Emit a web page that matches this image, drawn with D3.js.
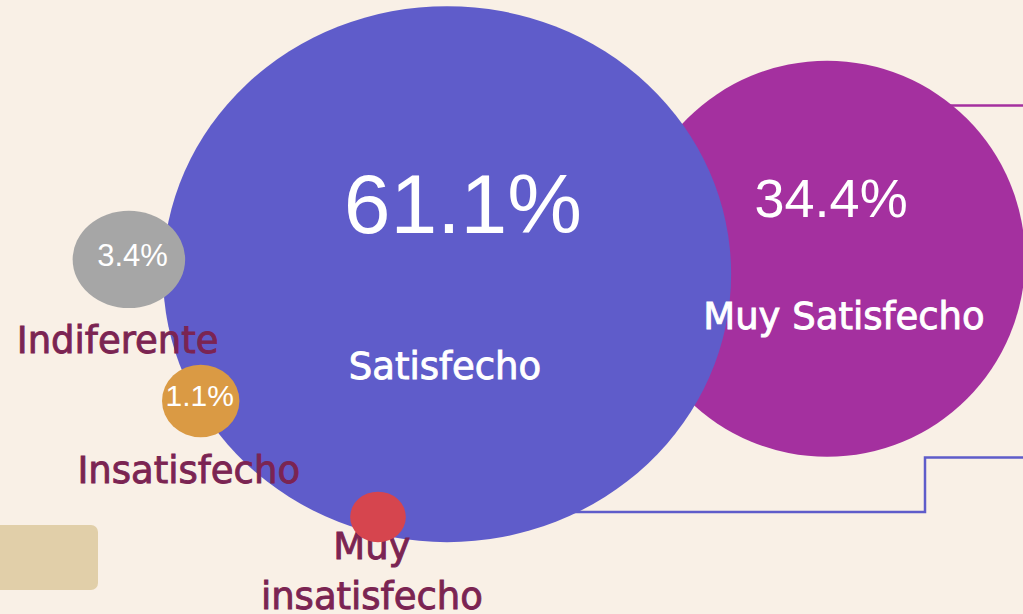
<!DOCTYPE html>
<html>
<head>
<meta charset="utf-8">
<script src="https://cdn.jsdelivr.net/npm/d3@7"></script>
<style>
  html, body { margin: 0; padding: 0; background: #f9f0e6; overflow: hidden; }
  svg { display: block; }
</style>
</head>
<body>
<svg id="chart"></svg>
<script>
// data
var categories = ["Muy Satisfecho", "Satisfecho", "Indiferente", "Insatisfecho", "Muy insatisfecho"];
var values = [34.4, 61.1, 3.4, 1.1, 0];
var valueLabels = ["34.4%", "61.1%", "3.4%", "1.1%", ""];
var colors = ["#a4309f", "#5f5cca", "#a6a6a6", "#da9a44", "#d6454e"];

var width = 1023, height = 614;

var svg = d3.select("#chart")
  .attr("width", width)
  .attr("height", height);

// layout in relative units, mapped through x/y scales
var x = d3.scaleLinear().domain([0, 1]).range([0, width]);
var y = d3.scaleLinear().domain([0, 1]).range([0, height]);

// radius of each bubble from its value
var r = d3.scaleLinear()
  .domain([0, 1.1, 3.4, 34.4, 61.1])
  .range([25.3, 36.3, 48.7, 198, 268]);

// per bubble: centre, x stretch, label placement, text sizes
var layout = {
  "Muy Satisfecho":   {cx: 0.8085, cy: 0.4215, sx: 1.0,   inside: true,  lx: 0.825, ly: 0.5365, pctY: 0.353, pctSize: 54},
  "Satisfecho":       {cx: 0.437,  cy: 0.4465, sx: 1.06,  inside: true,  lx: 0.435, ly: 0.618,  pctX: 0.4525, pctY: 0.3795, pctSize: 84},
  "Indiferente":      {cx: 0.126,  cy: 0.4225, sx: 1.155, inside: false, lx: 0.115, ly: 0.575,  pctX: 0.1295, pctY: 0.4335, pctSize: 31},
  "Insatisfecho":     {cx: 0.1962, cy: 0.653,  sx: 1.066, inside: false, lx: 0.1845, ly: 0.786, pctX: 0.1952, pctY: 0.6615, pctSize: 30},
  "Muy insatisfecho": {cx: 0.3695, cy: 0.842,  sx: 1.1,   inside: false, lx: 0.3635, ly: 0.911, pctY: 0.842, pctSize: 30}
};

var nodes = categories.map(function(c, i) {
  var l = layout[c];
  return {
    name: c, value: values[i], pct: valueLabels[i], color: colors[i],
    cx: x(l.cx), cy: y(l.cy), ry: r(values[i]), rx: r(values[i]) * l.sx,
    l: l
  };
});

// decorative tab bottom left
svg.append("rect")
  .attr("x", -12).attr("y", 525)
  .attr("width", 110).attr("height", 65)
  .attr("rx", 7)
  .attr("fill", "#e1cfa9");

// connector lines, behind the bubbles
var line = d3.line();
svg.append("path")
  .attr("d", line([[nodes[0].cx, 105.5], [width + 5, 105.5]]))
  .attr("fill", "none")
  .attr("stroke", colors[0])
  .attr("stroke-width", 2.5);

svg.append("path")
  .attr("d", line([[nodes[1].cx, 512], [925, 512], [925, 457.5], [width + 5, 457.5]]))
  .attr("fill", "none")
  .attr("stroke", colors[1])
  .attr("stroke-width", 2.5);

// big bubbles first
var big = nodes.filter(function(d) { return d.l.inside; });
var small = nodes.filter(function(d) { return !d.l.inside; });

svg.append("g").selectAll("ellipse")
  .data(big)
  .enter().append("ellipse")
  .attr("cx", function(d) { return d.cx; })
  .attr("cy", function(d) { return d.cy; })
  .attr("rx", function(d) { return d.rx; })
  .attr("ry", function(d) { return d.ry; })
  .attr("fill", function(d) { return d.color; });

// category labels
var labelFont = "'DejaVu Sans', 'Open Sans', sans-serif";
svg.append("g").selectAll("text")
  .data(nodes)
  .enter().append("text")
  .attr("text-anchor", "middle")
  .attr("font-family", labelFont)
  .attr("font-size", 37)
  .attr("fill", function(d) { return d.l.inside ? "#ffffff" : "#7b2452"; })
  .attr("stroke", function(d) { return d.l.inside ? "#ffffff" : "#7b2452"; })
  .attr("stroke-width", 0.9)
  .each(function(d) {
    var words = d.name === "Muy insatisfecho" ? ["Muy", "insatisfecho"] : [d.name];
    var t = d3.select(this);
    words.forEach(function(w, i) {
      t.append("tspan")
        .attr("x", x(d.l.lx))
        .attr("y", y(d.l.ly) + i * 50)
        .text(w);
    });
  });

// small bubbles on top
svg.append("g").selectAll("ellipse")
  .data(small)
  .enter().append("ellipse")
  .attr("cx", function(d) { return d.cx; })
  .attr("cy", function(d) { return d.cy; })
  .attr("rx", function(d) { return d.rx; })
  .attr("ry", function(d) { return d.ry; })
  .attr("fill", function(d) { return d.color; });

// percentages
svg.append("g").selectAll("text")
  .data(nodes.filter(function(d) { return d.pct !== ""; }))
  .enter().append("text")
  .attr("text-anchor", "middle")
  .attr("font-family", "'Liberation Sans', Arial, sans-serif")
  .attr("font-size", function(d) { return d.l.pctSize; })
  .attr("fill", "#ffffff")
  .attr("x", function(d) { return d.l.pctX !== undefined ? x(d.l.pctX) : d.cx + 4; })
  .attr("y", function(d) { return y(d.l.pctY); })
  .text(function(d) { return d.pct; });
</script>
</body>
</html>
